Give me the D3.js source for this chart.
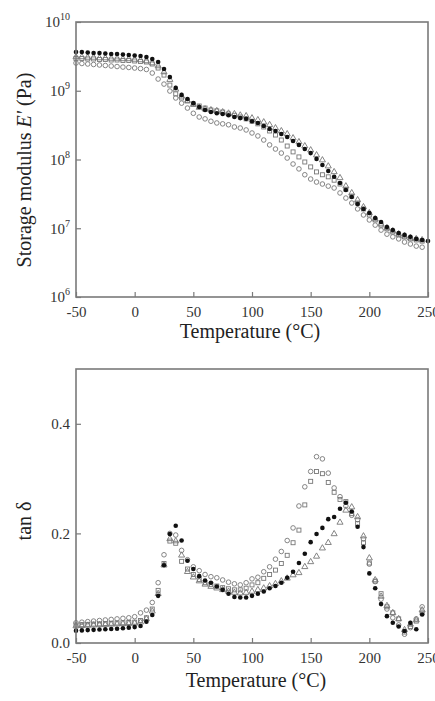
<!DOCTYPE html>
<html>
<head>
<meta charset="utf-8">
<script src="https://cdn.jsdelivr.net/npm/d3@7"></script>
<style>
  body { margin: 0; background: #fff; }
  svg, svg text { font-family: "Liberation Serif", "Times New Roman", serif; }
  svg { display: block; }
</style>
</head>
<body>
<div id="chart"></div>
<script>
// temperature grid (°C)
const temps = [-50,-45,-40,-35,-30,-25,-20,-15,-10,-5,0,5,10,15,20,25,30,35,40,45,
  50,55,60,65,70,75,80,85,90,95,100,105,110,115,120,125,130,135,140,145,
  150,155,160,165,170,175,180,185,190,195,200,205,210,215,220,225,230,235,240,245,250];

// storage modulus E' (Pa)
const eFilled = [3.66e9,3.66e9,3.60e9,3.54e9,3.54e9,3.49e9,3.43e9,3.43e9,3.37e9,3.31e9,
  3.26e9,3.20e9,3.10e9,2.90e9,2.62e9,2.07e9,1.58e9,1.10e9,8.7e8,7.6e8,
  6.6e8,5.8e8,5.25e8,4.9e8,4.7e8,4.6e8,4.4e8,4.15e8,4.0e8,3.9e8,
  3.6e8,3.4e8,3.07e8,2.78e8,2.6e8,2.35e8,2.12e8,1.86e8,1.63e8,1.42e8,
  1.24e8,1.02e8,8.3e7,6.8e7,5.6e7,4.55e7,3.6e7,2.85e7,2.25e7,1.91e7,
  1.67e7,1.41e7,1.23e7,1.04e7,9.4e6,8.5e6,8.0e6,7.5e6,7.0e6,6.75e6,6.5e6];
const eCircle = [2.53e9,2.49e9,2.45e9,2.41e9,2.37e9,2.33e9,2.29e9,2.25e9,2.21e9,2.18e9,
  2.14e9,2.10e9,2.04e9,1.81e9,1.48e9,1.25e9,9.9e8,7.85e8,6.6e8,5.6e8,
  4.7e8,4.15e8,3.9e8,3.6e8,3.4e8,3.3e8,3.2e8,2.97e8,2.87e8,2.69e8,
  2.43e8,2.2e8,1.92e8,1.63e8,1.42e8,1.24e8,1.05e8,8.6e7,7.3e7,6.0e7,
  5.2e7,4.7e7,4.4e7,4.1e7,3.85e7,3.26e7,2.75e7,2.33e7,1.91e7,1.56e7,
  1.32e7,1.11e7,9.4e6,8.2e6,7.5e6,7.0e6,6.3e6,5.9e6,5.5e6,5.3e6];
const eTriangle = [3.10e9,3.10e9,3.05e9,3.05e9,2.99e9,2.99e9,2.95e9,2.95e9,2.90e9,2.90e9,
  2.85e9,2.80e9,2.71e9,2.53e9,2.29e9,1.87e9,1.45e9,1.05e9,8.3e8,7.2e8,
  6.3e8,5.7e8,5.4e8,5.25e8,5.1e8,4.9e8,4.7e8,4.6e8,4.4e8,4.3e8,
  4.0e8,3.76e8,3.5e8,3.2e8,2.87e8,2.6e8,2.35e8,2.05e8,1.8e8,1.57e8,
  1.37e8,1.16e8,9.8e7,8.0e7,6.6e7,5.4e7,4.1e7,3.26e7,2.58e7,2.04e7,
  1.67e7,1.36e7,1.15e7,1.01e7,9.1e6,8.2e6,7.7e6,7.2e6,7.0e6,6.75e6];
const eSquare = [2.95e9,2.95e9,2.90e9,2.90e9,2.85e9,2.85e9,2.80e9,2.80e9,2.75e9,2.75e9,
  2.71e9,2.66e9,2.62e9,2.45e9,2.14e9,1.69e9,1.21e9,9.0e8,7.85e8,7.1e8,
  6.4e8,6.0e8,5.6e8,5.25e8,5.1e8,4.9e8,4.6e8,4.4e8,4.15e8,3.9e8,
  3.6e8,3.3e8,2.97e8,2.6e8,2.27e8,1.92e8,1.57e8,1.29e8,1.09e8,9.2e7,
  7.8e7,6.6e7,6.0e7,5.6e7,5.0e7,4.4e7,3.7e7,2.94e7,2.33e7,1.91e7,
  1.56e7,1.32e7,1.11e7,9.8e6,8.8e6,8.0e6,7.5e6,7.0e6,6.75e6,6.5e6];

// loss factor tan δ
const tFilled = [0.0225,0.023,0.0235,0.024,0.0245,0.025,0.0255,0.026,0.027,0.028,
  0.029,0.031,0.039,0.051,0.086,0.142,0.199,0.214,0.187,0.15,
  0.135,0.122,0.114,0.11,0.103,0.097,0.09,0.084,0.083,0.083,
  0.086,0.09,0.094,0.1,0.104,0.11,0.119,0.13,0.146,0.163,
  0.184,0.199,0.21,0.226,0.23,0.245,0.256,0.24,0.212,0.175,
  0.127,0.1,0.071,0.049,0.037,0.03,0.022,0.037,0.025,0.052];
const tCircle = [0.037,0.038,0.039,0.04,0.041,0.042,0.043,0.044,0.045,0.046,
  0.048,0.055,0.06,0.074,0.11,0.161,0.2,0.197,0.169,0.152,
  0.139,0.132,0.125,0.121,0.119,0.115,0.111,0.108,0.106,0.11,
  0.117,0.12,0.13,0.139,0.153,0.167,0.187,0.21,0.25,0.285,
  0.313,0.34,0.336,0.31,0.283,0.267,0.25,0.233,0.225,0.19,
  0.144,0.112,0.08,0.062,0.046,0.033,0.016,0.028,0.044,0.066];
const tTriangle = [0.031,0.0315,0.032,0.0325,0.033,0.0335,0.034,0.0345,0.035,0.0355,
  0.036,0.038,0.044,0.058,0.09,0.142,0.19,0.186,0.16,0.13,
  0.12,0.113,0.107,0.103,0.1,0.097,0.094,0.092,0.091,0.092,
  0.094,0.097,0.1,0.104,0.108,0.113,0.118,0.124,0.128,0.139,
  0.148,0.158,0.173,0.183,0.199,0.22,0.242,0.248,0.23,0.195,
  0.155,0.115,0.085,0.068,0.055,0.044,0.024,0.034,0.042,0.06];
const tSquare = [0.033,0.0335,0.034,0.0345,0.035,0.0355,0.036,0.0365,0.037,0.0375,
  0.038,0.041,0.046,0.062,0.096,0.145,0.186,0.182,0.149,0.135,
  0.125,0.116,0.11,0.107,0.104,0.101,0.099,0.097,0.097,0.1,
  0.106,0.11,0.118,0.125,0.133,0.145,0.16,0.183,0.206,0.252,
  0.295,0.313,0.309,0.293,0.275,0.262,0.258,0.236,0.218,0.183,
  0.146,0.113,0.09,0.066,0.055,0.044,0.02,0.03,0.04,0.055];

const xTicks = [-50, 0, 50, 100, 150, 200, 250];
const eTicks = [1e6, 1e7, 1e8, 1e9, 1e10];
const tTicks = [0, 0.2, 0.4];

const serif = "'Liberation Serif', 'Times New Roman', serif";
const frameColor = "#7a7a7a";
const markGray = "#777";

const svg = d3.select("#chart").append("svg")
  .attr("width", 435)
  .attr("height", 701);

const x = d3.scaleLinear().domain([-50, 250]).range([76, 428]);

function frame(top, bottom) {
  svg.append("rect")
    .attr("x", 76).attr("y", top)
    .attr("width", 428 - 76).attr("height", bottom - top)
    .attr("fill", "none")
    .attr("stroke", frameColor)
    .attr("stroke-width", 1.6);
}

function styleAxis(g) {
  g.attr("font-family", null);
  g.select(".domain").remove();
  g.selectAll(".tick line").attr("stroke", frameColor).attr("stroke-width", 1.2);
  g.selectAll(".tick text").attr("fill", "#333")
    .style("font-family", serif).style("font-size", "15px");
}

function xAxis(bottom) {
  svg.append("g")
    .attr("transform", `translate(0,${bottom})`)
    .call(d3.axisBottom(x).tickValues(xTicks).tickSizeInner(-5).tickSizeOuter(0)
      .tickPadding(9).tickFormat(d => String(d)))
    .call(styleAxis);
}

function pairs(values) {
  return values.map((v, i) => ({ t: temps[i], v }));
}

function drawSeries(y, circle, square, triangle, filled) {
  const g = svg.append("g");
  g.selectAll(".oc").data(pairs(circle)).enter().append("circle")
    .attr("cx", d => x(d.t)).attr("cy", d => y(d.v)).attr("r", 2.3)
    .attr("fill", "none").attr("stroke", markGray).attr("stroke-width", 0.9);
  g.selectAll(".sq").data(pairs(square)).enter().append("rect")
    .attr("x", d => x(d.t) - 2).attr("y", d => y(d.v) - 2)
    .attr("width", 4).attr("height", 4)
    .attr("fill", "none").attr("stroke", markGray).attr("stroke-width", 0.9);
  const tri = d3.symbol().type(d3.symbolTriangle).size(16);
  g.selectAll(".tr").data(pairs(triangle)).enter().append("path")
    .attr("d", tri)
    .attr("transform", d => `translate(${x(d.t)},${y(d.v)})`)
    .attr("fill", "none").attr("stroke", markGray).attr("stroke-width", 0.9);
  g.selectAll(".fc").data(pairs(filled)).enter().append("circle")
    .attr("cx", d => x(d.t)).attr("cy", d => y(d.v)).attr("r", 2.3)
    .attr("fill", "#111");
}

function title(tx, ty, rotate, text) {
  return svg.append("text")
    .attr("transform", `translate(${tx},${ty})` + (rotate ? " rotate(-90)" : ""))
    .attr("text-anchor", "middle")
    .attr("fill", "#222")
    .style("font-family", serif).style("font-size", "20px")
    .text(text);
}

// --- top: storage modulus ---
const yE = d3.scaleLog().domain([1e6, 1e10]).range([297, 22]);

svg.append("g")
  .attr("transform", "translate(76,0)")
  .call(d3.axisLeft(yE).tickValues(eTicks).tickSizeInner(-5).tickSizeOuter(0).tickPadding(6).tickFormat(""))
  .call(styleAxis)
  .selectAll(".tick text")
  .each(function(d) {
    const t = d3.select(this);
    t.append("tspan").text("10");
    t.append("tspan").style("font-size", "10px").attr("dy", "-0.7em").text(Math.round(Math.log10(d)));
  });

xAxis(297);
drawSeries(yE, eCircle, eSquare, eTriangle, eFilled);
frame(22, 297);

title(250, 338, false, "Temperature (°C)");
const yLab = title(31, 170, true, null);
yLab.append("tspan").text("Storage modulus ");
yLab.append("tspan").style("font-style", "italic").text("E'");
yLab.append("tspan").text(" (Pa)");

// --- bottom: tan delta ---
const yT = d3.scaleLinear().domain([0, 0.5]).range([643, 369]);

svg.append("g")
  .attr("transform", "translate(76,0)")
  .call(d3.axisLeft(yT).tickValues(tTicks).tickSizeInner(-5).tickSizeOuter(0).tickPadding(6).tickFormat(d3.format(".1f")))
  .call(styleAxis);

xAxis(643);
drawSeries(yT, tCircle, tSquare, tTriangle, tFilled);
frame(369, 643);

title(256, 687, false, "Temperature (°C)");
title(31, 521, true, "tan δ");
</script>
</body>
</html>
